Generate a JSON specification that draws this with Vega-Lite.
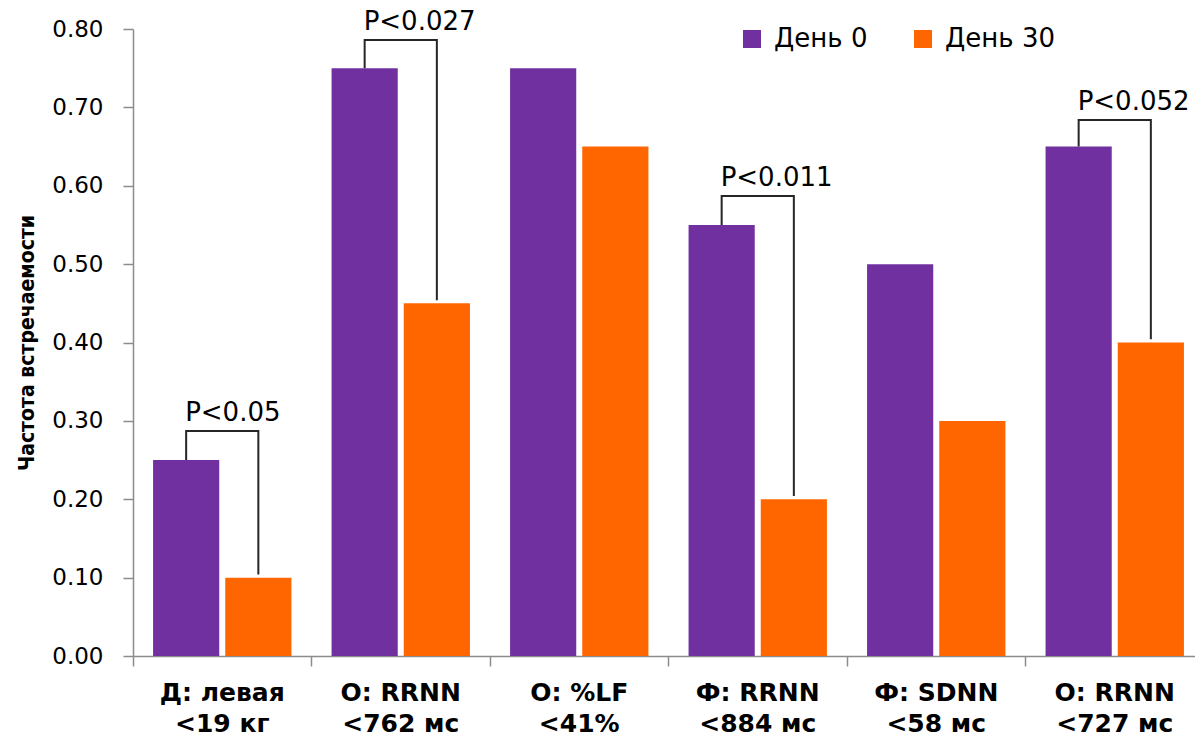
{
  "$schema": "https://vega.github.io/schema/vega-lite/v6.json",
  "width": 1062,
  "height": 627,
  "autosize": {"type": "none"},
  "padding": {"left": 133, "top": 29, "right": 0, "bottom": 82},
  "background": "white",
  "config": {"view": {"stroke": null}, "font": "DejaVu Sans"},
  "datasets": {
    "bars": [
      {"cat": "Д: левая|<19 кг", "series": "День 0", "value": 0.25},
      {"cat": "Д: левая|<19 кг", "series": "День 30", "value": 0.10},
      {"cat": "О: RRNN|<762 мс", "series": "День 0", "value": 0.75},
      {"cat": "О: RRNN|<762 мс", "series": "День 30", "value": 0.45},
      {"cat": "О: %LF|<41%", "series": "День 0", "value": 0.75},
      {"cat": "О: %LF|<41%", "series": "День 30", "value": 0.65},
      {"cat": "Ф: RRNN|<884 мс", "series": "День 0", "value": 0.55},
      {"cat": "Ф: RRNN|<884 мс", "series": "День 30", "value": 0.20},
      {"cat": "Ф: SDNN|<58 мс", "series": "День 0", "value": 0.50},
      {"cat": "Ф: SDNN|<58 мс", "series": "День 30", "value": 0.30},
      {"cat": "О: RRNN|<727 мс", "series": "День 0", "value": 0.65},
      {"cat": "О: RRNN|<727 мс", "series": "День 30", "value": 0.40}
    ],
    "brackets": [
      {"pair": "a", "o": 1, "cat": "Д: левая|<19 кг", "series": "День 0", "v": 0.25},
      {"pair": "a", "o": 2, "cat": "Д: левая|<19 кг", "series": "День 0", "v": 0.287},
      {"pair": "a", "o": 3, "cat": "Д: левая|<19 кг", "series": "День 30", "v": 0.287},
      {"pair": "a", "o": 4, "cat": "Д: левая|<19 кг", "series": "День 30", "v": 0.104},
      {"pair": "b", "o": 1, "cat": "О: RRNN|<762 мс", "series": "День 0", "v": 0.75},
      {"pair": "b", "o": 2, "cat": "О: RRNN|<762 мс", "series": "День 0", "v": 0.786},
      {"pair": "b", "o": 3, "cat": "О: RRNN|<762 мс", "series": "День 30", "v": 0.786},
      {"pair": "b", "o": 4, "cat": "О: RRNN|<762 мс", "series": "День 30", "v": 0.454},
      {"pair": "c", "o": 1, "cat": "Ф: RRNN|<884 мс", "series": "День 0", "v": 0.55},
      {"pair": "c", "o": 2, "cat": "Ф: RRNN|<884 мс", "series": "День 0", "v": 0.587},
      {"pair": "c", "o": 3, "cat": "Ф: RRNN|<884 мс", "series": "День 30", "v": 0.587},
      {"pair": "c", "o": 4, "cat": "Ф: RRNN|<884 мс", "series": "День 30", "v": 0.204},
      {"pair": "d", "o": 1, "cat": "О: RRNN|<727 мс", "series": "День 0", "v": 0.65},
      {"pair": "d", "o": 2, "cat": "О: RRNN|<727 мс", "series": "День 0", "v": 0.684},
      {"pair": "d", "o": 3, "cat": "О: RRNN|<727 мс", "series": "День 30", "v": 0.684},
      {"pair": "d", "o": 4, "cat": "О: RRNN|<727 мс", "series": "День 30", "v": 0.404}
    ],
    "labels": [
      {"cat": "Д: левая|<19 кг", "series": "День 0", "v": 0.287, "label": "P<0.05"},
      {"cat": "О: RRNN|<762 мс", "series": "День 0", "v": 0.786, "label": "P<0.027"},
      {"cat": "Ф: RRNN|<884 мс", "series": "День 0", "v": 0.587, "label": "P<0.011"},
      {"cat": "О: RRNN|<727 мс", "series": "День 0", "v": 0.684, "label": "P<0.052"}
    ]
  },
  "layer": [
    {
      "data": {"name": "bars"},
      "mark": {"type": "bar"},
      "encoding": {
        "x": {
          "field": "cat", "type": "nominal",
          "scale": {"domain": ["Д: левая|<19 кг", "О: RRNN|<762 мс", "О: %LF|<41%", "Ф: RRNN|<884 мс", "Ф: SDNN|<58 мс", "О: RRNN|<727 мс"], "paddingInner": 0, "paddingOuter": 0, "range": [0, 1071]},
          "axis": {
            "title": null,
            "labelExpr": "split(datum.label, '|')",
            "labelAngle": 0,
            "labelFontWeight": "bold",
            "labelFontSize": 25,
            "labelColor": "black",
            "labelLineHeight": 31,
            "labelPadding": 14,
            "labelOverlap": false,
            "labelBound": false,
            "bandPosition": 0,
            "tickSize": 10,
            "tickColor": "#8c8c8c",
            "domainColor": "#8c8c8c",
            "tickWidth": 1.5,
            "domainWidth": 1.5
          }
        },
        "xOffset": {
          "field": "series", "type": "nominal",
          "scale": {"domain": ["День 0", "День 30"], "paddingInner": 0.0833, "paddingOuter": 0.278}
        },
        "y": {
          "field": "value", "type": "quantitative",
          "scale": {"domain": [0, 0.8], "nice": false},
          "axis": {
            "title": "Частота встречаемости",
            "titleFont": "DejaVu Sans Condensed",
            "titleFontWeight": "bold",
            "titleFontSize": 21,
            "titleColor": "black",
            "titlePadding": 14,
            "values": [0, 0.1, 0.2, 0.3, 0.4, 0.5, 0.6, 0.7, 0.8],
            "format": ".2f",
            "labelFontSize": 23,
            "labelColor": "black",
            "labelPadding": 20,
            "tickSize": 10,
            "tickColor": "#8c8c8c",
            "domainColor": "#8c8c8c",
            "tickWidth": 1.5,
            "domainWidth": 1.5,
            "grid": false
          }
        },
        "color": {
          "field": "series", "type": "nominal",
          "scale": {"domain": ["День 0", "День 30"], "range": ["#7030A0", "#FF6600"]},
          "legend": {
            "title": null,
            "orient": "none",
            "legendX": 606,
            "legendY": -3,
            "direction": "horizontal",
            "symbolType": "square",
            "symbolSize": 324,
            "symbolStrokeWidth": 0,
            "labelFontSize": 26,
            "labelColor": "black",
            "labelOffset": 9,
            "columnPadding": 42
          }
        }
      }
    },
    {
      "data": {"name": "brackets"},
      "mark": {"type": "line", "color": "#262626", "strokeWidth": 2, "clip": false, "interpolate": "linear"},
      "encoding": {
        "x": {"field": "cat", "type": "nominal"},
        "xOffset": {"field": "series", "type": "nominal"},
        "y": {"field": "v", "type": "quantitative"},
        "detail": {"field": "pair"},
        "order": {"field": "o", "type": "quantitative"}
      }
    },
    {
      "data": {"name": "labels"},
      "mark": {"type": "text", "align": "left", "baseline": "bottom", "dx": -1, "dy": -5, "fontSize": 26, "color": "black", "clip": false},
      "encoding": {
        "x": {"field": "cat", "type": "nominal"},
        "xOffset": {"field": "series", "type": "nominal"},
        "y": {"field": "v", "type": "quantitative"},
        "text": {"field": "label"}
      }
    }
  ]
}
